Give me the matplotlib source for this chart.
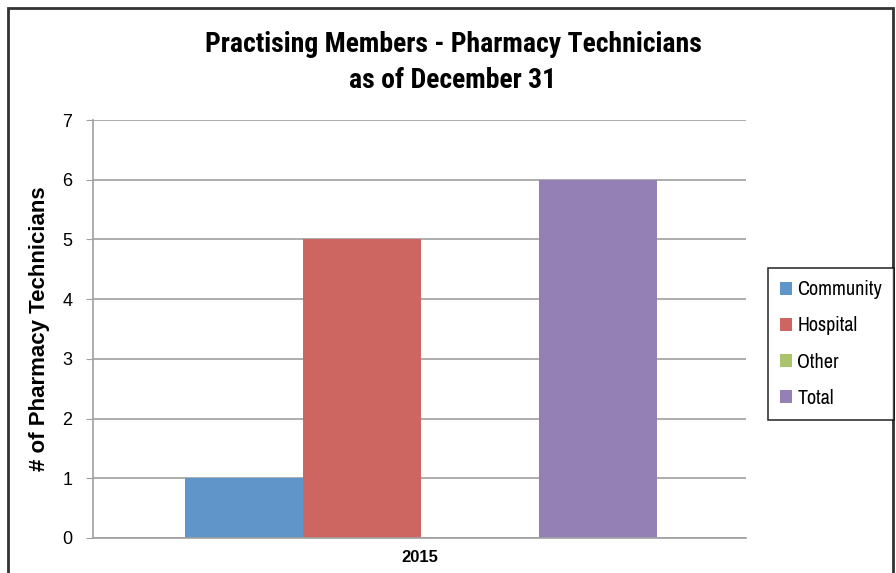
import matplotlib
matplotlib.use("Agg")
import matplotlib.pyplot as plt
from matplotlib.patches import Rectangle, Patch

categories = ["2015"]
series = ["Community", "Hospital", "Other", "Total"]
values = [1, 5, 0, 6]
colors = ["#5F95C8", "#CD6660", "#A9C46C", "#9580B5"]
yticks = [0, 1, 2, 3, 4, 5, 6, 7]

W, H = 896, 573
fig = plt.figure(figsize=(W / 100, H / 100), dpi=100)
ax = fig.add_axes([93 / W, 1 - 538 / H, (746 - 93) / W, (538 - 120) / H])

bw = 118 / 653
offsets = [-1.5, -0.5, 0.5, 1.5]
for s, v, c, o in zip(series, values, colors, offsets):
    ax.bar(0 + o * bw + 0.003, v, width=bw, color=c, label=s, zorder=2)

ax.set_xlim(-0.5, 0.5)
ax.set_ylim(0, 7)
ax.set_yticks(yticks)
ax.set_yticklabels([str(t) for t in yticks], fontsize=13, family="Liberation Sans")
ax.set_xticks([0])
ax.set_xticklabels(categories, fontsize=12, fontweight="bold", family="Liberation Sans")
ax.tick_params(axis="x", length=0, pad=9)
ax.tick_params(axis="y", length=5, color="#A0A0A0", pad=10)
ax.grid(axis="y", color="#A0A0A0", linewidth=1.2, zorder=0)
ax.set_axisbelow(True)
for sp in ["top", "right"]:
    ax.spines[sp].set_visible(False)
ax.spines["left"].set_color("#A0A0A0")
ax.spines["bottom"].set_color("#A0A0A0")
ax.spines["left"].set_linewidth(1.2)
ax.spines["bottom"].set_linewidth(1.2)

ax.set_ylabel("# of Pharmacy Technicians", fontsize=16, fontweight="bold",
              family="Liberation Sans", labelpad=9)

fig.text(453 / W, 1 - 45 / H, "Practising Members - Pharmacy Technicians",
         ha="center", va="center", fontsize=20, fontweight="bold",
         family="Roboto Condensed")
fig.text(453 / W, 1 - 80 / H, "as of December 31",
         ha="center", va="center", fontsize=20, fontweight="bold",
         family="Roboto Condensed")

handles = [Patch(facecolor=c, label=s) for s, c in zip(series, colors)]
leg = fig.legend(handles=handles, loc="center left",
                 bbox_to_anchor=(768 / W, 1 - 344 / H),
                 prop={"family": "Archivo Narrow", "size": 14.5},
                 frameon=True, fancybox=False, edgecolor="black",
                 handlelength=0.6, handleheight=0.6, handletextpad=0.25,
                 labelspacing=0.85, borderpad=0.6, borderaxespad=0)
leg.get_frame().set_linewidth(1.2)

fig.patches.append(Rectangle((8 / W, -0.05), (893 - 8) / W, 1 - 8 / H + 0.05,
                             transform=fig.transFigure, fill=False,
                             edgecolor="#333333", linewidth=2))

fig.savefig("out.png", dpi=100)
